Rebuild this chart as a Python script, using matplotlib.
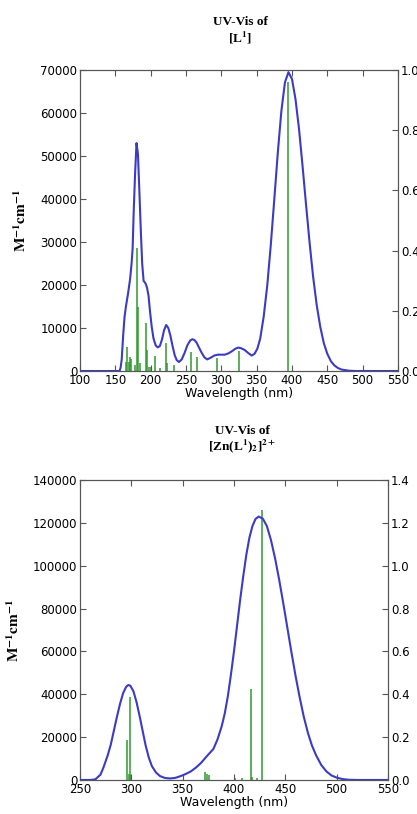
import matplotlib
matplotlib.use("Agg")
import matplotlib.pyplot as plt

plt.rcParams["mathtext.fontset"] = "stix"

# --- [L1] : spectre calculé (courbe) + forces d'oscillateur (bâtons)
wl_l1 = [100, 156, 157.5, 159, 161, 163, 165, 168, 171, 173, 174.5, 176, 178, 180, 182, 184,
         186, 188, 190, 193, 195, 197, 199, 201.5, 204, 207, 210, 213, 216, 219, 222, 225,
         228, 231, 234, 237, 240, 244, 248, 252, 256, 259, 262, 265, 268, 272, 276, 280,
         285, 290, 295, 300, 305, 310, 315, 320, 324, 328, 333, 338, 343, 347, 351, 355,
         360, 365, 370, 375, 380, 385, 390, 395, 400, 405, 410, 415, 420, 425, 430, 435,
         440, 445, 450, 455, 460, 465, 470, 480, 490, 550]
eps_l1 = [0, 0, 800, 2600, 8000, 12500, 15000, 18000, 21500, 25000, 28500, 37000, 46000, 53000, 50500, 42000,
          33000, 25000, 21000, 20300, 19300, 17500, 14000, 10300, 7600, 6000, 5500, 5800, 7300, 9500, 10700, 10000,
          8200, 5800, 3700, 2500, 2100, 2700, 4200, 6000, 7100, 7400, 7200, 6600, 5600, 4300, 3200, 2700,
          3100, 3600, 3800, 3800, 3800, 4100, 4600, 5200, 5450, 5300, 4900, 4200, 3600, 4000, 5200, 7500,
          12700, 19900, 29300, 40000, 50900, 60500, 67100, 69500, 67900, 63200, 56200, 47600, 38500, 29700, 21800, 15300,
          10300, 6500, 4000, 2300, 1300, 700, 350, 80, 0, 0]
stick_wl_l1 = [165.5, 167, 169.5, 171, 172.5, 177.8, 180.2, 182.5, 185, 193.4, 195.3, 198, 200,
               206, 213, 221.7, 223.6, 233.5, 257, 265, 294.3, 325.4, 395]
stick_f_l1 = [0.03, 0.081, 0.03, 0.045, 0.04, 0.02, 0.408, 0.214, 0.025, 0.158, 0.07, 0.015, 0.012,
              0.05, 0.01, 0.092, 0.028, 0.02, 0.062, 0.048, 0.044, 0.068, 0.96]
ticks_x_l1 = [100, 150, 200, 250, 300, 350, 400, 450, 500, 550]

# --- [Zn(L1)2]2+
wl_zn = [250, 260, 265, 270, 273, 277, 280, 283, 286, 289, 292, 295, 297, 299, 302, 305, 308,
         311, 314, 317, 320, 324, 328, 333, 338, 343, 348, 353, 358, 363, 368, 373, 380, 384,
         388, 391, 394, 397, 400, 403, 406, 409, 412, 415, 418, 421, 424, 428, 432, 436, 440,
         444, 448, 452, 456, 460, 464, 468, 472, 476, 480, 485, 490, 495, 500, 506, 512, 520, 550]
eps_zn = [0, 0, 300, 2500, 6000, 11500, 16500, 23000, 29500, 35500, 40500, 43500, 44300, 44000, 41500, 36500, 30000,
          23000, 16000, 10500, 6500, 3500, 1800, 900, 700, 1000, 1800, 2800, 4000, 5800, 8000, 10800, 14500, 19000,
          25000, 31000, 39000, 49000, 60000, 72000, 84000, 95000, 105000, 113000, 118500, 121800, 122900, 122000, 118500, 112000, 103500,
          93500, 82500, 71000, 59500, 48500, 38500, 29500, 22000, 16000, 11500, 7000, 4000, 2100, 1100, 400, 100, 0, 0]
stick_wl_zn = [295.5, 298, 298.7, 299.4, 371.7, 374, 375.6, 400.9, 408.3, 416.2, 418, 422, 427.5]
stick_f_zn = [0.187, 0.03, 0.389, 0.025, 0.039, 0.03, 0.025, 0.01, 0.01, 0.423, 0.015, 0.008, 1.26]
ticks_x_zn = [250, 300, 350, 400, 450, 500, 550]

fig = plt.figure(figsize=(4.17, 8.14), dpi=100)

def panel(rect, wl, eps, swl, sf, xticks, ymax, fmax, ticks_f):
    ax = fig.add_axes(rect)
    ax.plot(wl, eps, color="#3b3bc4", lw=1.5, zorder=3)
    ax.set_xlim(xticks[0], xticks[-1])
    ax.set_xticks(xticks)
    ax.set_ylim(0, ymax)
    ax.set_xlabel("Wavelength (nm)", fontsize=9, labelpad=0)
    ax.set_ylabel("$\\mathbf{M^{-1}cm^{-1}}$", fontsize=11, labelpad=8)
    ax.tick_params(direction="in", top=True, labelsize=8.5, length=4, color="#555555", pad=2)
    ax2 = ax.twinx()
    ax2.vlines(swl, 0, sf, color="#2f9a2f", lw=1.1, zorder=2)
    ax2.set_ylim(0, fmax)
    ax2.set_yticks(ticks_f)
    ax2.set_yticklabels(["%.1f" % t for t in ticks_f])
    ax2.tick_params(direction="in", labelsize=8.5, length=4, color="#555555", pad=2)
    for a in (ax, ax2):
        for s in a.spines.values():
            s.set_color("#555555")
    ax.set_zorder(ax2.get_zorder() + 1)
    ax.patch.set_visible(False)
    return ax

panel([0.1918, 0.5442, 0.7626, 0.3698], wl_l1, eps_l1, stick_wl_l1, stick_f_l1,
      ticks_x_l1, 70000, 1.0, [0, 0.2, 0.4, 0.6, 0.8, 1.0])
panel([0.1918, 0.0418, 0.7386, 0.3686], wl_zn, eps_zn, stick_wl_zn, stick_f_zn,
      ticks_x_zn, 140000, 1.4, [0, 0.2, 0.4, 0.6, 0.8, 1.0, 1.2, 1.4])

fig.text(240 / 417, 1 - 31 / 814, "UV-Vis of\n[L$^\\mathbf{1}$]", ha="center", va="center",
         fontsize=9.5, fontweight="bold", family="Liberation Serif", linespacing=1.1)
fig.text(242 / 417, 1 - 440 / 814, "UV-Vis of\n[Zn(L$^\\mathbf{1}$)$_\\mathbf{2}$]$^\\mathbf{2+}$",
         ha="center", va="center", fontsize=9.5, fontweight="bold", family="Liberation Serif",
         linespacing=1.1)

fig.savefig("out.png", dpi=100)
